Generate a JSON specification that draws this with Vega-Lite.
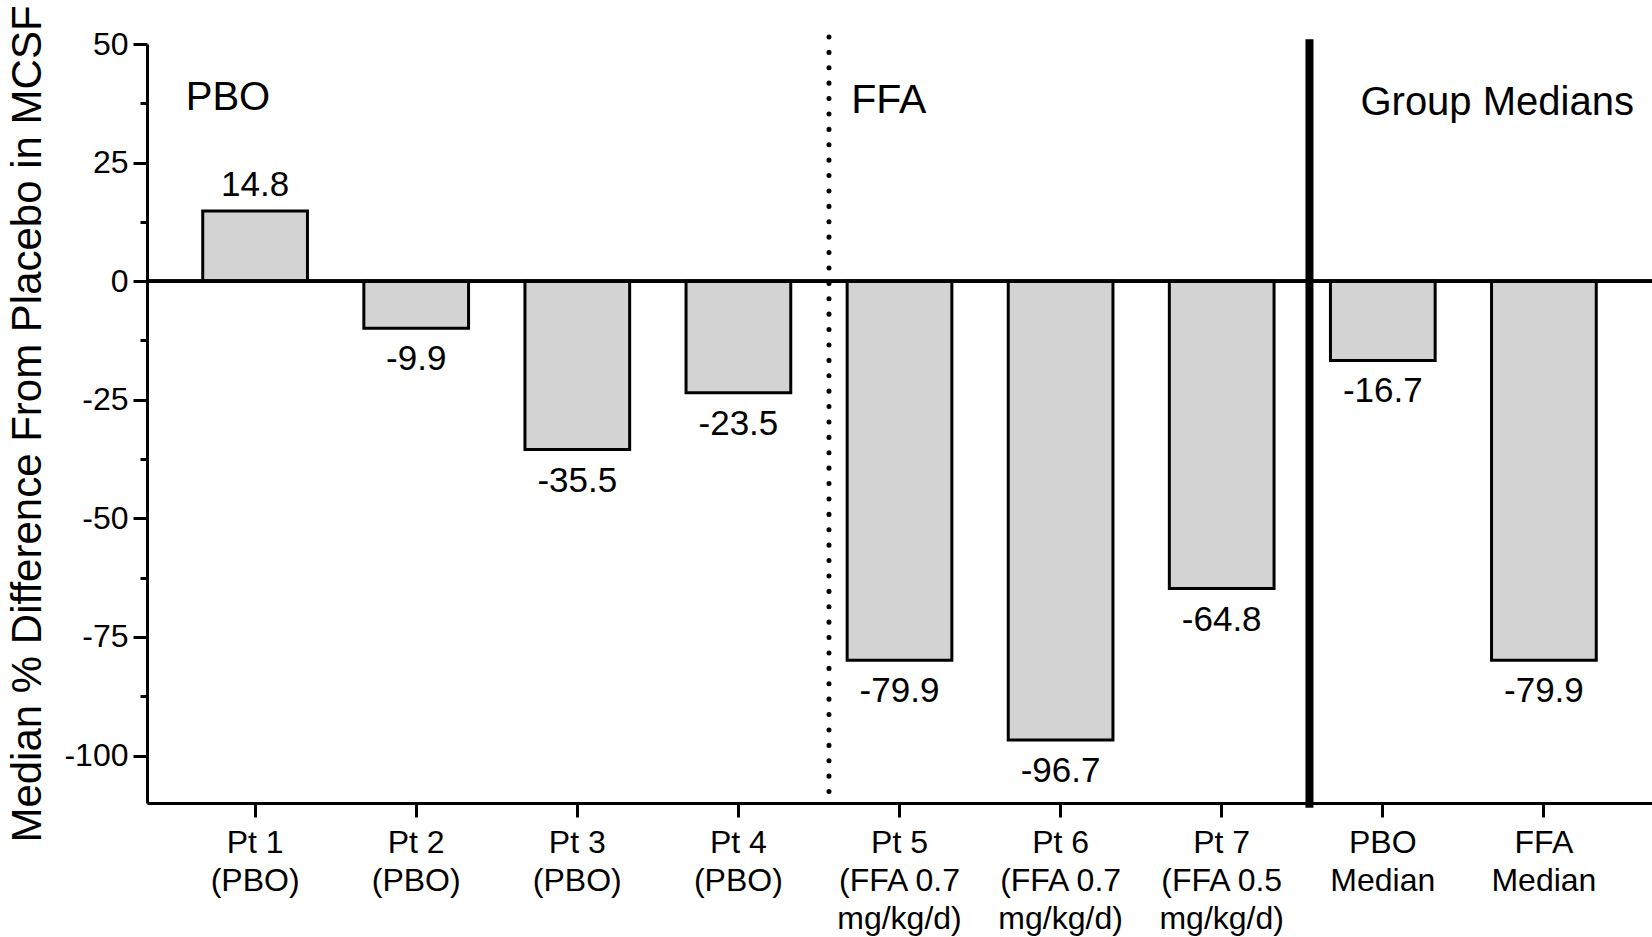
{
  "$schema": "https://vega.github.io/schema/vega-lite/v6.json",
  "width": 1505,
  "height": 759,
  "autosize": {"type": "none"},
  "padding": {"left": 147, "top": 44, "right": 0, "bottom": 134},
  "background": "white",
  "config": {
    "view": {"stroke": null},
    "font": "Liberation Sans",
    "axis": {
      "domainColor": "black",
      "domainWidth": 3,
      "tickColor": "black",
      "tickWidth": 3,
      "labelColor": "black",
      "labelFont": "Liberation Sans",
      "titleFont": "Liberation Sans",
      "titleColor": "black",
      "titleFontWeight": "normal",
      "grid": false
    }
  },
  "data": {
    "values": [
      {"cat": "Pt 1|(PBO)", "value": 14.8},
      {"cat": "Pt 2|(PBO)", "value": -9.9},
      {"cat": "Pt 3|(PBO)", "value": -35.5},
      {"cat": "Pt 4|(PBO)", "value": -23.5},
      {"cat": "Pt 5|(FFA 0.7|mg/kg/d)", "value": -79.9},
      {"cat": "Pt 6|(FFA 0.7|mg/kg/d)", "value": -96.7},
      {"cat": "Pt 7|(FFA 0.5|mg/kg/d)", "value": -64.8},
      {"cat": "PBO|Median", "value": -16.7},
      {"cat": "FFA|Median", "value": -79.9}
    ]
  },
  "layer": [
    {
      "mark": {"type": "bar", "fill": "#d3d3d3", "stroke": "black", "strokeWidth": 3},
      "encoding": {
        "x": {
          "field": "cat",
          "type": "nominal",
          "sort": null,
          "scale": {
            "domain": ["Pt 1|(PBO)", "Pt 2|(PBO)", "Pt 3|(PBO)", "Pt 4|(PBO)", "Pt 5|(FFA 0.7|mg/kg/d)", "Pt 6|(FFA 0.7|mg/kg/d)", "Pt 7|(FFA 0.5|mg/kg/d)", "PBO|Median", "FFA|Median"],
            "paddingInner": 0.35,
            "paddingOuter": 0.346
          },
          "axis": {
            "title": null,
            "labelAngle": 0,
            "labelExpr": "split(datum.label, '|')",
            "labelFontSize": 32,
            "labelLineHeight": 38,
            "labelPadding": 10,
            "tickSize": 14,
            "labelBaseline": "top"
          }
        },
        "y": {
          "field": "value",
          "type": "quantitative",
          "scale": {"domain": [-110, 50], "nice": false, "zero": false},
          "axis": {
            "title": "Median % Difference From Placebo in MCSF",
            "titleFontSize": 42,
            "titlePadding": 14,
            "values": [-100, -87.5, -75, -62.5, -50, -37.5, -25, -12.5, 0, 12.5, 25, 37.5, 50],
            "labelExpr": "datum.value % 25 === 0 ? '' + datum.value : ''",
            "labelFontSize": 32,
            "labelPadding": 5,
            "tickSize": {"condition": {"test": "datum.value % 25 !== 0", "value": 7}, "value": 14}
          }
        }
      }
    },
    {
      "mark": {"type": "rule", "color": "black", "strokeWidth": 3},
      "encoding": {"y": {"datum": 0, "type": "quantitative"}}
    },
    {
      "data": {"values": [{"cat": "Pt 4|(PBO)"}]},
      "mark": {"type": "rule", "color": "black", "strokeWidth": 5, "strokeDash": [0.1, 15.3], "strokeCap": "round"},
      "encoding": {
        "x": {"field": "cat", "type": "nominal", "sort": null, "bandPosition": 1.365},
        "y": {"datum": 51.5, "type": "quantitative"},
        "y2": {"datum": -109.5}
      }
    },
    {
      "data": {"values": [{"cat": "Pt 7|(FFA 0.5|mg/kg/d)"}]},
      "mark": {"type": "rule", "color": "black", "strokeWidth": 8},
      "encoding": {
        "x": {"field": "cat", "type": "nominal", "sort": null, "bandPosition": 1.338},
        "y": {"datum": 51, "type": "quantitative"},
        "y2": {"datum": -111}
      }
    },
    {
      "transform": [{"filter": "datum.value >= 0"}],
      "mark": {"type": "text", "fontSize": 35, "baseline": "alphabetic", "dy": -15, "color": "black"},
      "encoding": {
        "x": {"field": "cat", "type": "nominal", "sort": null},
        "y": {"field": "value", "type": "quantitative"},
        "text": {"field": "value", "type": "nominal"}
      }
    },
    {
      "transform": [{"filter": "datum.value < 0"}],
      "mark": {"type": "text", "fontSize": 35, "baseline": "top", "dy": 14, "color": "black"},
      "encoding": {
        "x": {"field": "cat", "type": "nominal", "sort": null},
        "y": {"field": "value", "type": "quantitative"},
        "text": {"field": "value", "type": "nominal"}
      }
    },
    {
      "data": {"values": [{"cat": "Pt 1|(PBO)", "note": "PBO"}]},
      "mark": {"type": "text", "fontSize": 40, "align": "left", "baseline": "alphabetic", "dx": -17, "color": "black"},
      "encoding": {
        "x": {"field": "cat", "type": "nominal", "sort": null, "bandPosition": 0},
        "y": {"datum": 36, "type": "quantitative"},
        "text": {"field": "note"}
      }
    },
    {
      "data": {"values": [{"cat": "Pt 5|(FFA 0.7|mg/kg/d)", "note": "FFA"}]},
      "mark": {"type": "text", "fontSize": 41, "align": "left", "baseline": "alphabetic", "dx": 4, "color": "black"},
      "encoding": {
        "x": {"field": "cat", "type": "nominal", "sort": null, "bandPosition": 0},
        "y": {"datum": 35.5, "type": "quantitative"},
        "text": {"field": "note"}
      }
    },
    {
      "data": {"values": [{"cat": "PBO|Median", "note": "Group Medians"}]},
      "mark": {"type": "text", "fontSize": 40, "align": "left", "baseline": "alphabetic", "dx": 30, "color": "black"},
      "encoding": {
        "x": {"field": "cat", "type": "nominal", "sort": null, "bandPosition": 0},
        "y": {"datum": 35, "type": "quantitative"},
        "text": {"field": "note"}
      }
    }
  ]
}
